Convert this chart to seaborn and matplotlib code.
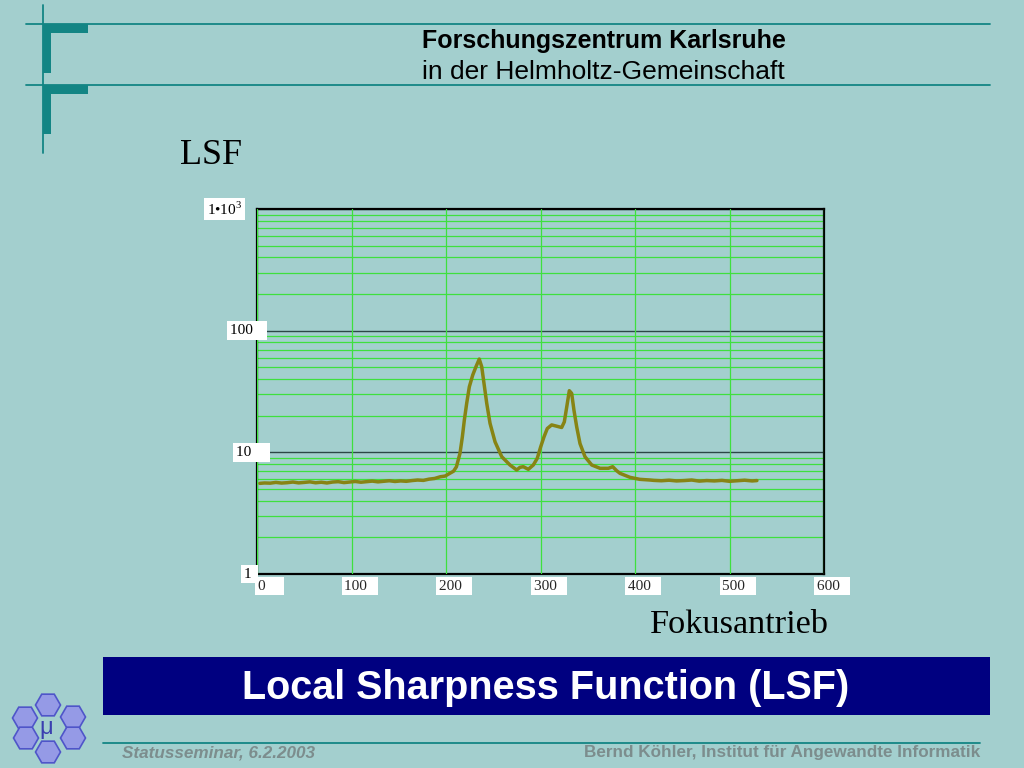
"""LSF slide: Local Sharpness Function"""
import matplotlib
matplotlib.use("Agg")
import matplotlib.pyplot as plt
import matplotlib.transforms as mtransforms
from matplotlib.patches import Rectangle, RegularPolygon
from matplotlib.ticker import LogLocator, NullFormatter
import numpy as np
import pandas as pd
import seaborn as sns

# data
fokus = [3, 8, 14, 20, 26, 32, 38, 44, 50, 56, 62, 68, 74, 80, 86, 92, 98, 104,
         110, 116, 122, 128, 134, 140, 146, 152, 158, 164, 170, 176, 182, 188, 194,
         199, 204, 208, 211, 214.8, 217.3, 219.4, 221.9, 224.7, 228.3, 231.7, 235.2,
         237.8, 240.2, 243.1, 246.6, 251.9, 259, 267.7, 274.8, 278.3, 281.8, 287.1,
         292.4, 296.6, 300.2, 303.7, 307.2, 311.8, 317.1, 322.4, 325.2, 327.8, 330.5,
         333, 335.4, 338.3, 341.8, 347.1, 354.2, 363, 371.8, 376.4, 380.6, 384.1,
         394.7, 405, 416, 420, 428, 436, 444, 452, 460, 468, 476, 484, 492, 500, 508,
         516, 524, 529]
lsf = [5.56, 5.60, 5.58, 5.66, 5.59, 5.63, 5.70, 5.61, 5.66, 5.72, 5.62, 5.68, 5.60,
       5.70, 5.74, 5.64, 5.70, 5.76, 5.68, 5.74, 5.80, 5.72, 5.78, 5.84, 5.76, 5.82,
       5.78, 5.86, 5.92, 5.88, 6.02, 6.10, 6.30, 6.38, 6.72, 7.0, 7.6, 9.81, 13.4,
       18.4, 25.3, 34.6, 43.2, 50.5, 58.4, 50.5, 36.9, 25.3, 17.3, 12.2, 9.2, 7.87,
       7.16, 7.53, 7.62, 7.25, 7.87, 8.94, 11.1, 13.4, 15.7, 16.8, 16.4, 16.0, 17.8,
       23.7, 32.1, 30.5, 22.2, 16.2, 11.8, 9.2, 7.87, 7.39, 7.39, 7.62, 7.06, 6.72,
       6.23, 6.0, 5.92, 5.88, 5.84, 5.90, 5.82, 5.86, 5.92, 5.80, 5.86, 5.82, 5.88,
       5.78, 5.84, 5.90, 5.82, 5.86]

x_ticks = [0, 100, 200, 300, 400, 500, 600]
x_labels = ["0    ", "100  ", "200  ", "300  ", "400  ", "500  ", "600  "]
x_label_dx = [1, -7, -7, -7, -7, -7, -7]    # px shift of each label
y_ticks = [1, 10, 100, 1000]
y_labels = ["1 ", "10    ", "100   ", "1•10$^{3}$"]
y_label_dx = [-13, -21, -27, -50]   # left edge of each label, px from the frame

bg = "#a3cfce"
teal = "#138584"
line_col = "#878414"
gray = "#7c8d8d"

sns.set_theme(style="ticks")
plt.rcParams["font.family"] = ["Liberation Sans", "DejaVu Sans"]
plt.rcParams["text.color"] = "black"
plt.rcParams["mathtext.fontset"] = "custom"
plt.rcParams["mathtext.rm"] = "Liberation Serif"

fig = plt.figure(figsize=(10.24, 7.68), dpi=100, facecolor=bg)

# header decoration
deco = fig.add_axes([0, 0, 1, 1], facecolor="none")
deco.set_xlim(0, 1024)
deco.set_ylim(768, 0)
deco.axis("off")
deco.plot([26, 990], [24, 24], color=teal, lw=1.3)
deco.plot([26, 990], [85, 85], color=teal, lw=1.3)
deco.plot([43, 43], [5, 153], color=teal, lw=1.3)
for y0 in [24, 85]:
    deco.add_patch(Rectangle((43, y0), 45, 9, color=teal, lw=0))
    deco.add_patch(Rectangle((43, y0), 8, 49, color=teal, lw=0))
deco.text(422, 41, "Forschungszentrum Karlsruhe", fontsize=18, fontweight="bold",
          va="center", ha="left")
deco.text(422, 72, "in der Helmholtz-Gemeinschaft", fontsize=19, va="center", ha="left")

# axis titles
deco.text(180, 156, "LSF", fontsize=26, family="Liberation Serif", va="center")
deco.text(829, 625, "Fokusantrieb", fontsize=24.7, family="Liberation Serif",
          va="center", ha="right")

# title banner and footer
deco.add_patch(Rectangle((103, 657), 887, 58, color="#000080", lw=0))
deco.text(546, 688, "Local Sharpness Function (LSF)", fontsize=28.5, fontweight="bold",
          color="white", ha="center", va="center")
deco.plot([103, 980], [743, 743], color=teal, lw=1.3)
deco.text(122, 753, "Statusseminar, 6.2.2003", fontsize=12.3, fontweight="bold",
          fontstyle="italic", color=gray, va="center")
deco.text(980, 753, "Bernd Köhler, Institut für Angewandte Informatik", fontsize=12.3,
          fontweight="bold", color=gray, va="center", ha="right")

# logo hexagons
for cx, cy in [(48, 705), (73, 717), (25, 718), (26, 738), (73, 738), (48, 752)]:
    deco.add_patch(RegularPolygon((cx, cy), 6, radius=12.5, orientation=np.pi / 6,
                                  facecolor="#959ae6", edgecolor="#4f55c9", lw=1.2))
deco.text(46, 728, "μ", fontsize=17, color="#3a3fb0", ha="center", va="center")

# chart
ax = fig.add_axes([257 / 1024, 1 - 574 / 768, 567 / 1024, 365 / 768], facecolor=bg)
df = pd.DataFrame({"Fokusantrieb": fokus, "LSF": lsf})
sns.lineplot(data=df, x="Fokusantrieb", y="LSF", ax=ax, color=line_col, lw=2.5,
             zorder=4)
ax.set_yscale("log")
ax.set_xlim(0, 600)
ax.set_ylim(1, 1000)
ax.set_xlabel("")
ax.set_ylabel("")

ax.yaxis.set_minor_locator(LogLocator(base=10, subs=np.arange(2, 10)))
ax.yaxis.set_minor_formatter(NullFormatter())
ax.grid(which="minor", axis="y", color="#3ee03e", lw=0.9)
ax.grid(which="major", axis="y", color="#2c4747", lw=1.0)
ax.grid(which="major", axis="x", color="#3ee03e", lw=0.9)

ax.set_xticks(x_ticks, x_labels)
ax.set_yticks(y_ticks, [""] * len(y_ticks))
ax.tick_params(which="both", length=0, labelsize=11)
ax.tick_params(axis="x", pad=4)
for s in ax.spines.values():
    s.set_color("black")
    s.set_linewidth(1.6)
ax.xaxis.set_zorder(3)

box = dict(facecolor="white", edgecolor="none", pad=2)
for lbl, off in zip(ax.get_xticklabels(), x_label_dx):
    lbl.set_family("Liberation Serif")
    lbl.set_ha("left")
    lbl.set_bbox(box)
    lbl.set_transform(lbl.get_transform() + mtransforms.ScaledTranslation(
        off / 100, 0, fig.dpi_scale_trans))

# y labels in white boxes lying over the frame, like the original worksheet
for yv, lbl, off in zip(y_ticks, y_labels, y_label_dx):
    tr = ax.get_yaxis_transform() + mtransforms.ScaledTranslation(
        off / 100, 0, fig.dpi_scale_trans)
    ax.text(0, yv, lbl, transform=tr, ha="left", va="center", fontsize=11,
            family="Liberation Serif", bbox=box, zorder=5, clip_on=False)

fig.savefig("out.png", dpi=100, facecolor=bg)
